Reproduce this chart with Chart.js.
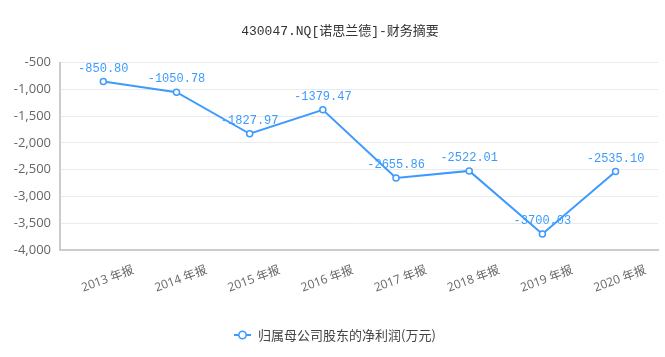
<!DOCTYPE html>
<html>
<head>
<meta charset="utf-8">
<script src="https://cdn.jsdelivr.net/npm/chart.js@4/dist/chart.umd.min.js"></script>
<style>
html,body{margin:0;padding:0;background:#fff;}
#wrap{width:665px;height:357px;}
</style>
</head>
<body>
<div id="wrap"><canvas id="c" width="665" height="357"></canvas></div>
<script>
const chartTitle = '430047.NQ[诺思兰德]-财务摘要';
const seriesName = '归属母公司股东的净利润(万元)';
const categories = ['2013 年报','2014 年报','2015 年报','2016 年报','2017 年报','2018 年报','2019 年报','2020 年报'];
const netProfit = [-850.80, -1050.78, -1827.97, -1379.47, -2655.86, -2522.01, -3700.03, -2535.10];
const yTicks = [-4000, -3500, -3000, -2500, -2000, -1500, -1000, -500];

const blue = '#3d9bff';

const valueLabels = {
  id: 'valueLabels',
  afterDatasetsDraw(chart) {
    const ctx = chart.ctx;
    const meta = chart.getDatasetMeta(0);
    ctx.save();
    ctx.font = '12px "Liberation Mono", "Noto Sans CJK SC", monospace';
    ctx.fillStyle = blue;
    ctx.textAlign = 'center';
    ctx.textBaseline = 'bottom';
    meta.data.forEach((pt, i) => {
      ctx.fillText(netProfit[i].toFixed(2), pt.x, pt.y - 7);
    });
    ctx.restore();
  }
};

// title and legend drawn at the reference's positions
const titleLegend = {
  id: 'titleLegend',
  afterDraw(chart) {
    const ctx = chart.ctx;
    ctx.save();
    ctx.font = '13px "Liberation Mono", "Noto Sans CJK SC", monospace';
    ctx.fillStyle = '#333';
    ctx.textAlign = 'center';
    ctx.textBaseline = 'middle';
    ctx.fillText(chartTitle, 340, 31.5);

    const ly = 335;
    ctx.strokeStyle = blue;
    ctx.lineWidth = 2;
    ctx.beginPath(); ctx.moveTo(234, ly); ctx.lineTo(251, ly); ctx.stroke();
    ctx.fillStyle = '#fff';
    ctx.beginPath(); ctx.arc(242.5, ly, 3.7, 0, Math.PI * 2); ctx.fill();
    ctx.lineWidth = 1.6; ctx.stroke();

    ctx.font = '13px "Noto Sans CJK SC", sans-serif';
    ctx.fillStyle = '#444';
    ctx.textAlign = 'left';
    ctx.fillText(seriesName, 258, ly);
    ctx.restore();
  }
};

new Chart(document.getElementById('c'), {
  type: 'line',
  data: {
    datasets: [{
      label: seriesName,
      data: netProfit.map((v, i) => ({x: i, y: v})),
      borderColor: blue,
      backgroundColor: '#fff',
      borderWidth: 2,
      pointRadius: 3,
      pointBorderWidth: 1.5,
      pointBackgroundColor: '#fff',
      pointBorderColor: blue,
      tension: 0
    }]
  },
  options: {
    responsive: false,
    animation: false,
    layout: { padding: { left: 0, right: 7, bottom: 0, top: 62.7 } },
    scales: {
      x: {
        type: 'linear',
        min: -0.592,
        max: 7.58,
        afterBuildTicks(scale) { scale.ticks = categories.map((_, i) => ({value: i})); },
        afterFit(scale) { scale.height = 107; },
        grid: { display: true, color: 'rgba(0,0,0,0)', drawTicks: false },
        border: { display: true, color: '#cccccc', width: 2 },
        ticks: {
          autoSkip: false,
          maxRotation: 20,
          minRotation: 20,
          labelOffset: 30,
          padding: 13,
          color: '#666',
          font: { family: '"Open Sans", "Noto Sans CJK SC", sans-serif', size: 12 },
          callback: (v) => categories[Math.round(v)]
        }
      },
      y: {
        min: -4000,
        max: -500,
        afterBuildTicks(scale) { scale.ticks = yTicks.map(v => ({value: v})); },
        afterFit(scale) { scale.width = 60; },
        grid: { color: '#ebebeb', lineWidth: 1, drawTicks: false },
        border: { display: true, color: '#cccccc', width: 2 },
        ticks: {
          padding: 9,
          color: '#666',
          font: { family: '"Open Sans", "Noto Sans CJK SC", sans-serif', size: 13 },
          callback: (v) => v.toLocaleString('en-US')
        }
      }
    },
    plugins: {
      title: { display: false },
      legend: { display: false },
      tooltip: { enabled: false }
    }
  },
  plugins: [valueLabels, titleLegend]
});
</script>
</body>
</html>
